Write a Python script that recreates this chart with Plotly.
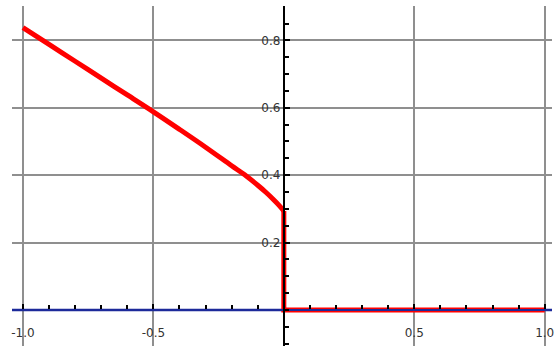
import plotly.graph_objects as go

# Data
curve_x = [-1.0, -0.9, -0.8, -0.7, -0.6, -0.5, -0.4, -0.3, -0.2, -0.15, -0.1, -0.07, -0.04, -0.02, 0.0]
curve_y = [0.838, 0.788, 0.738, 0.688, 0.638, 0.588, 0.536, 0.483, 0.428, 0.401, 0.370, 0.350, 0.328, 0.312, 0.294]
drop_x = [0.0, 0.0, 1.0]
drop_y = [0.294, 0.0, 0.0]
base_x = [-1.05, 1.04]
base_y = [0.0, 0.0]

x_ticks = [-1.0, -0.5, 0.5, 1.0]
x_labels = ["-1.0", "-0.5", "0.5", "1.0"]
y_ticks = [0.2, 0.4, 0.6, 0.8]
y_labels = ["0.2", "0.4", "0.6", "0.8"]

x_range = [-1.042, 1.028]
y_range = [-0.107, 0.902]

fig = go.Figure()
fig.add_trace(go.Scatter(x=base_x, y=base_y, mode="lines",
                         line=dict(color="#1c2a9a", width=2.5), hoverinfo="skip"))
fig.add_trace(go.Scatter(x=curve_x, y=curve_y, mode="lines",
                         line=dict(color="#ff0000", width=5, shape="spline", smoothing=1),
                         hoverinfo="skip"))
fig.add_trace(go.Scatter(x=drop_x, y=drop_y, mode="lines",
                         line=dict(color="#ff0000", width=5), hoverinfo="skip"))

xpos = (0 - y_range[0]) / (y_range[1] - y_range[0])
ypos = (0 - x_range[0]) / (x_range[1] - x_range[0])

font = dict(family="DejaVu Sans", size=12, color="#333333")

fig.update_layout(
    width=554, height=346,
    margin=dict(l=12, r=0, t=6, b=0),
    paper_bgcolor="white", plot_bgcolor="white",
    showlegend=False,
    xaxis=dict(range=x_range, tickmode="array", tickvals=x_ticks,
               showticklabels=False,
               showgrid=True, gridcolor="#8f8f8f", gridwidth=1.5, zeroline=False,
               showline=True, linecolor="#1c2a9a", linewidth=2,
               anchor="free", position=xpos,
               ticks="inside", ticklen=5, tickcolor="black", tickwidth=1.5,
               minor=dict(tickmode="linear", tick0=0, dtick=0.1, ticks="inside",
                          ticklen=4, tickcolor="black", showgrid=False)),
    xaxis2=dict(range=x_range, tickmode="array", tickvals=x_ticks, ticktext=x_labels,
                overlaying="x", anchor="free", position=xpos, side="bottom",
                showgrid=False, zeroline=False, showline=False,
                ticks="outside", ticklen=12, tickcolor="rgba(255,255,255,0)",
                tickfont=font, ticklabeloverflow="allow"),
    yaxis=dict(range=y_range, tickmode="array", tickvals=y_ticks, ticktext=y_labels,
               showgrid=True, gridcolor="#8f8f8f", gridwidth=1.5, zeroline=False,
               showline=True, linecolor="black", linewidth=2,
               anchor="free", position=ypos,
               ticks="inside", ticklen=5, tickcolor="black", tickwidth=1.5,
               minor=dict(tickmode="linear", tick0=0, dtick=0.05, ticks="inside",
                          ticklen=4, tickcolor="black", showgrid=False),
               tickfont=font, ticklabeloverflow="allow"),
)
# invisible trace to activate the label axis
fig.add_trace(go.Scatter(x=[x_range[0]], y=[0], xaxis="x2", mode="markers",
                         marker=dict(opacity=0), hoverinfo="skip"))

fig.write_html("out.html")
